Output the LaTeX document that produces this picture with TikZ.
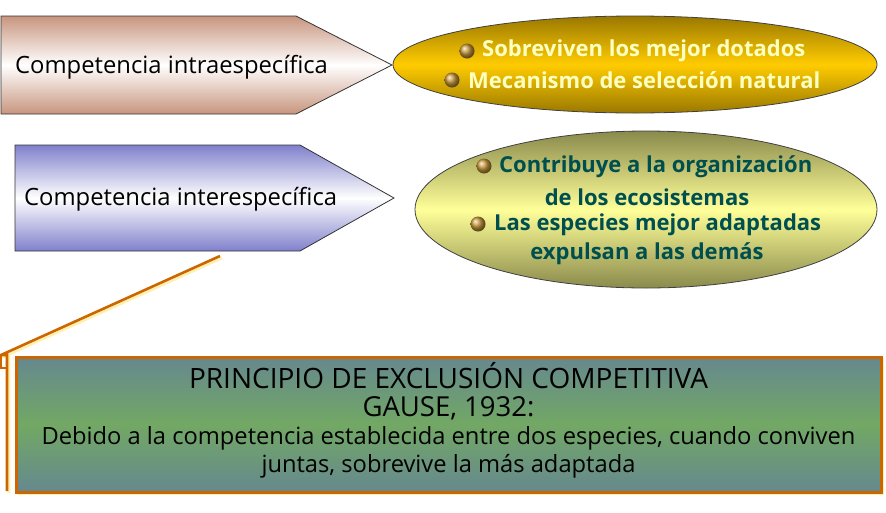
\documentclass[tikz,border=0pt]{standalone}
\usepackage{fontspec}
\setmainfont{Open Sans}
\usetikzlibrary{shapes.geometric}
\definecolor{arrowA}{HTML}{C8957E}
\definecolor{arrowB}{HTML}{8080CC}
\definecolor{goldE}{HTML}{9A7800}
\definecolor{goldM}{HTML}{FFCC00}
\definecolor{paleE}{HTML}{8A8A4C}
\definecolor{paleM}{HTML}{FFFF99}
\definecolor{boxE}{HTML}{66888F}
\definecolor{boxM}{HTML}{72A864}
\definecolor{orng}{HTML}{CC6600}
\definecolor{glow}{HTML}{FFF0B0}
\definecolor{tealtxt}{HTML}{004F4F}
\definecolor{cream}{HTML}{FFFFC0}
\definecolor{ballc}{HTML}{C89A3C}
\begin{document}
\begin{tikzpicture}[x=1pt,y=-1pt,
  arrowshape/.style={draw=black!80, line width=0.8pt},
  ellshape/.style={ellipse, draw=black!75, line width=0.8pt, inner sep=0pt, outer sep=0pt},
  lefttext/.style={anchor=west, inner sep=0pt, font=\fontsize{23.8}{28}\selectfont, text=black},
  goldtext/.style={inner sep=0pt, font=\fontsize{22}{26}\selectfont\bfseries, text=cream},
  tealtext/.style={inner sep=0pt, font=\fontsize{22}{26}\selectfont\bfseries, text=tealtxt},
  bullet/.style={ball color=ballc},
  callout/.style={draw=orng, line width=2.6pt},
  calloutglow/.style={draw=glow, line width=2.6pt}
]
\useasboundingbox (0,0) rectangle (886,512);

% arrow 1
\path[arrowshape, top color=arrowA, bottom color=arrowA, middle color=white]
  (1,16) -- (296,16) -- (392,65) -- (296,114) -- (1,114) -- cycle;
\node[lefttext] (intra) at (15,67) {Competencia intraespecífica};

% arrow 2
\path[arrowshape, top color=arrowB, bottom color=arrowB, middle color=white]
  (15,145) -- (300,145) -- (394,198) -- (300,251) -- (15,251) -- cycle;
\node[lefttext] (inter) at (24,199) {Competencia interespecífica};

% ellipse 1
\node[ellshape, minimum width=484pt, minimum height=97pt,
  top color=goldE, bottom color=goldE, middle color=goldM] (e1) at (635,64.5) {};
\shade[bullet] (467,51) circle (7.5);
\node[goldtext, anchor=west] (s1) at (482,51) {Sobreviven los mejor dotados};
\shade[bullet] (452,80) circle (7.5);
\node[goldtext, anchor=west] (s2) at (468,80) {Mecanismo de selección natural};

% ellipse 2
\node[ellshape, minimum width=462pt, minimum height=157pt,
  top color=paleE, bottom color=paleE, middle color=paleM] (e2) at (646,209.5) {};
\shade[bullet] (484,166) circle (7.5);
\node[tealtext, anchor=west] (c1) at (499,167) {Contribuye a la organización};
\node[tealtext] (c2) at (647,197) {de los ecosistemas};
\shade[bullet] (478,224) circle (7.5);
\node[tealtext, anchor=west] (c3) at (494,225) {Las especies mejor adaptadas};
\node[tealtext] (c4) at (647,254) {expulsan a las demás};

% callout glow
\draw[calloutglow] (222,258) -- (3,357) -- (9,357) -- (9,493);
\draw[calloutglow] (18,359) rectangle (883,494);
% callout
\coordinate (tail) at (220,256);
\node[draw=orng, line width=3pt, minimum width=865pt, minimum height=135pt,
  inner sep=0pt, outer sep=0pt,
  top color=boxE, bottom color=boxE, middle color=boxM] (gause) at (448.5,424.5) {};
\draw[callout] (tail) -- (1,355) -- (7,355) -- (7,491);
\draw[orng, line width=1.2pt] (1,355) -- (1,368) -- (7,368);
\node[inner sep=0pt, align=center, text=black, font=\fontsize{23.7}{28}\selectfont] (gtext) at (gause.center) [yshift=4pt]
  {{\fontsize{28}{28}\selectfont PRINCIPIO DE EXCLUSIÓN COMPETITIVA}\\
   {\fontsize{27.5}{28}\selectfont GAUSE, 1932:}\\
   Debido a la competencia establecida entre dos especies, cuando conviven\\
   juntas, sobrevive la más adaptada};
\end{tikzpicture}
\end{document}
